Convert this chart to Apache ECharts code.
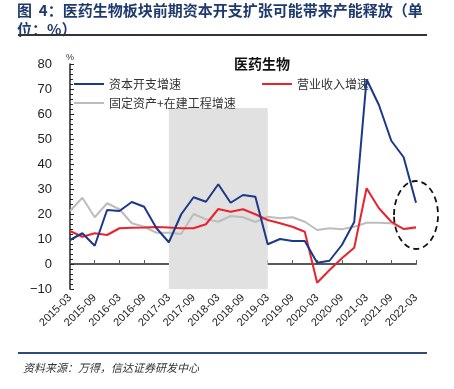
<!DOCTYPE html>
<html>
<head>
<meta charset="utf-8">
<script src="https://cdn.jsdelivr.net/npm/echarts@6/dist/echarts.min.js"></script>
<style>html,body{margin:0;padding:0;background:#fff;}#c{width:454px;height:389px;}</style>
</head>
<body>
<div id="c"></div>
<script>
var categories = ['2015-03','2015-06','2015-09','2015-12','2016-03','2016-06','2016-09','2016-12',
  '2017-03','2017-06','2017-09','2017-12','2018-03','2018-06','2018-09','2018-12',
  '2019-03','2019-06','2019-09','2019-12','2020-03','2020-06','2020-09','2020-12',
  '2021-03','2021-06','2021-09','2021-12','2022-03'];
var capexGrowth = [9.6,12.3,7.3,21.6,21.2,24.8,22.9,14.3,8.7,19.9,26.7,24.9,31.9,24.5,27.6,26.9,
  7.9,10.0,9.2,9.2,0.5,1.3,7.6,16.8,73.9,63.6,49.3,42.7,24.5];
var revenueGrowth = [13.2,10.9,12.3,11.6,14.3,14.5,14.6,14.8,14.6,14.3,14.3,15.9,22.0,20.9,21.9,19.9,
  17.6,16.3,14.9,12.9,-7.5,-2.4,2.3,6.5,30.3,22.3,16.9,14.0,14.7];
var fixedAssetGrowth = [21.2,26.5,18.7,24.3,21.9,16.3,14.9,12.5,12.5,12.0,20.0,17.9,16.9,19.2,18.7,16.8,
  18.9,18.3,18.7,16.9,13.6,14.3,13.9,14.9,16.5,16.5,16.3,14.0,14.3];
var yTicks = [-10, 80, 10];
var shadeRange = ['2017-03','2019-03'];
var names = ['资本开支增速','营业收入增速','固定资产+在建工程增速'];

var chart = echarts.init(document.getElementById('c'), null, {renderer:'canvas'});
var latin = 'Liberation Sans, Arial, sans-serif';
var cjk = '"Noto Sans CJK SC", sans-serif';
var option = {
  animation: false,
  backgroundColor: '#fff',
  title: [{
    text: '图  4：医药生物板块前期资本开支扩张可能带来产能释放（单\n位：%）',
    left: 17, top: 1, padding: [0, 0, 0, 0], z: 0, backgroundColor: 'rgba(0,0,0,0)',
    textStyle: {fontSize: 15, fontWeight: 'bold', color: '#1f3a6e', fontFamily: cjk, lineHeight: 19}
  }, {
    text: '医药生物', left: 229, top: 52,
    textStyle: {fontSize: 14, fontWeight: 'bold', color: '#111', fontFamily: cjk}
  }, {
    text: '资料来源：万得，信达证券研发中心', left: 18, top: 357,
    textStyle: {fontSize: 11, fontWeight: 'normal', fontStyle: 'italic', color: '#333', fontFamily: cjk}
  }],
  legend: [{
    data: [names[0], names[2]], orient: 'vertical', left: 69, top: 72, itemGap: 5,
    icon: 'rect', itemWidth: 30, itemHeight: 2,
    textStyle: {fontSize: 12, color: '#333', fontFamily: cjk, lineHeight: 14}
  }, {
    data: [names[1]], orient: 'vertical', left: 257, top: 72,
    icon: 'rect', itemWidth: 30, itemHeight: 2,
    textStyle: {fontSize: 12, color: '#333', fontFamily: cjk, lineHeight: 14}
  }],
  grid: {left: 70, right: 38, top: 64, bottom: 100},
  xAxis: [{
    type: 'category', data: categories, boundaryGap: false,
    axisLine: {onZero: true, lineStyle: {color: '#595959', width: 2}},
    axisTick: {show: true, inside: true, length: 4, interval: 1, lineStyle: {color: '#595959', width: 1}},
    axisLabel: {show: false}, splitLine: {show: false}
  }, {
    type: 'category', data: categories, boundaryGap: false, position: 'bottom',
    axisLine: {show: false, onZero: false}, axisTick: {show: false},
    axisLabel: {interval: 1, rotate: 45, fontSize: 11, color: '#222', fontFamily: latin, margin: 7},
    splitLine: {show: false}
  }],
  yAxis: {
    type: 'value', min: yTicks[0], max: yTicks[1], interval: yTicks[2],
    name: '%', nameGap: 2, nameTextStyle: {fontSize: 9, color: '#333', fontFamily: latin, align: 'center'},
    axisLine: {show: true, lineStyle: {color: '#222', width: 1.5}},
    axisTick: {show: true, inside: true, length: 4, lineStyle: {color: '#222'}},
    minorTick: {show: true, splitNumber: 5, length: 3, lineStyle: {color: '#222'}},
    axisLabel: {fontSize: 13, color: '#222', fontFamily: latin, margin: 18,
      formatter: function (v) { return v < 0 ? '\u2212' + Math.abs(v) : String(v); }},
    splitLine: {show: false}
  },
  series: [{
    type: 'line', data: [], z: 1, clip: false, silent: true,
    markArea: {silent: true, itemStyle: {color: '#e1e1e1'},
      data: [[{xAxis: shadeRange[0], yAxis: 62.4}, {xAxis: shadeRange[1], yAxis: -13.5}]]}
  }, {
    name: names[2], type: 'line', data: fixedAssetGrowth, symbol: 'none', z: 3,
    lineStyle: {color: '#bdbdbd', width: 2}, itemStyle: {color: '#bdbdbd'}
  }, {
    name: names[1], type: 'line', data: revenueGrowth, symbol: 'none', z: 4,
    lineStyle: {color: '#e8232d', width: 2}, itemStyle: {color: '#e8232d'}
  }, {
    name: names[0], type: 'line', data: capexGrowth, symbol: 'none', z: 5,
    lineStyle: {color: '#1c3888', width: 2}, itemStyle: {color: '#1c3888'}
  }]
};
chart.setOption(option);
var ctr = chart.convertToPixel({xAxisIndex: 0, yAxisIndex: 0}, [categories[28], 19.6]);
chart.setOption({graphic: {elements: [
  {type: 'ellipse', z: 10, shape: {cx: ctr[0], cy: ctr[1], rx: 22, ry: 34},
    style: {fill: 'none', stroke: '#111', lineWidth: 1.8, lineDash: [6, 4]}},
  {type: 'rect', z: 100, left: 18, top: 34, shape: {width: 409, height: 2}, style: {fill: '#333'}},
  {type: 'rect', z: 100, left: 18, top: 352, shape: {width: 409, height: 2}, style: {fill: '#2e4a78'}}
]}});
</script>
</body>
</html>
